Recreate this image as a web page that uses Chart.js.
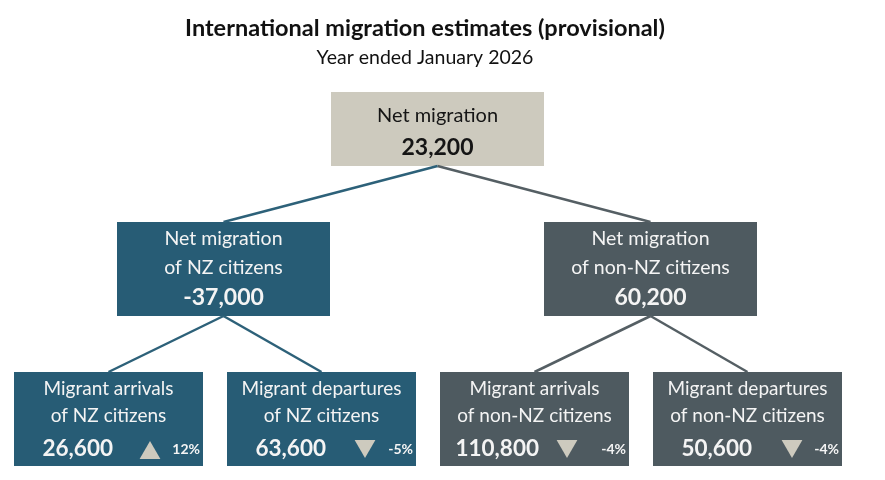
<!DOCTYPE html>
<html>
<head>
<meta charset="utf-8">
<script src="https://cdn.jsdelivr.net/npm/chart.js@4"></script>
<style>
  body { margin: 0; background: #fff; }
  #wrap { width: 885px; height: 480px; }
</style>
</head>
<body>
<div id="wrap"><canvas id="myChart" width="885" height="480"></canvas></div>
<script>
var title = 'International migration estimates (provisional)';
var subtitle = 'Year ended January 2026';

var boxLines = [
	['Net migration'],
	['Net migration', 'of NZ citizens'],
	['Net migration', 'of non-NZ citizens'],
	['Migrant arrivals', 'of NZ citizens'],
	['Migrant departures', 'of NZ citizens'],
	['Migrant arrivals', 'of non-NZ citizens'],
	['Migrant departures', 'of non-NZ citizens']
];
var boxValues = [23200, -37000, 60200, 26600, 63600, 110800, 50600];
var changes = [null, null, null, 12, -5, -4, -4];
var parents = [null, 0, 0, 1, 1, 2, 2];

// layout of the tree (pixels in a 885x480 frame)
var boxes = [
	{x: 331, y: 92, w: 213, h: 74},
	{x: 117, y: 222, w: 213, h: 94},
	{x: 544, y: 222, w: 213, h: 94},
	{x: 14, y: 372, w: 189, h: 94, tri: 136},
	{x: 227, y: 372, w: 189, h: 94, tri: 138},
	{x: 440, y: 372, w: 189, h: 94, tri: 127},
	{x: 653, y: 372, w: 189, h: 94, tri: 139}
];
var branch = [0, 1, 2, 1, 1, 2, 2];
var fills = ['#cdcabe', '#275c75', '#4e5a60'];
var lineColors = ['#4e5a60', '#2d6179', '#555f64'];
var FONT = 'Lato, "Open Sans", sans-serif';

function fmt(v) {
	return v.toLocaleString('en-US');
}

var datasets = [];
for (var i = 1; i < boxes.length; i++) {
	var p = boxes[parents[i]], c = boxes[i];
	datasets.push({
		data: [{x: p.x + p.w / 2, y: p.y + p.h}, {x: c.x + c.w / 2, y: c.y}],
		showLine: true,
		borderColor: lineColors[branch[i]],
		borderWidth: 2.5,
		pointRadius: 0
	});
}

var triPts = [], triRot = [];
for (var j = 3; j < boxes.length; j++) {
	var b = boxes[j];
	triPts.push({x: b.x + b.tri, y: b.y + (changes[j] > 0 ? 81 : 74)});
	triRot.push(changes[j] > 0 ? 0 : 180);
}
datasets.push({
	data: triPts,
	pointStyle: 'triangle',
	pointRadius: 12,
	pointRotation: triRot,
	pointBackgroundColor: '#cdcabe',
	pointBorderWidth: 0,
	pointBorderColor: '#cdcabe'
});

var boxPlugin = {
	id: 'boxes',
	beforeDatasetsDraw: function(chart) {
		var ctx = chart.ctx, xs = chart.scales.x, ys = chart.scales.y;
		boxes.forEach(function(b, i) {
			var x0 = xs.getPixelForValue(b.x), x1 = xs.getPixelForValue(b.x + b.w);
			var y0 = ys.getPixelForValue(b.y), y1 = ys.getPixelForValue(b.y + b.h);
			ctx.fillStyle = fills[branch[i]];
			ctx.fillRect(x0, y0, x1 - x0, y1 - y0);
		});
	},
	afterDatasetsDraw: function(chart) {
		var ctx = chart.ctx, xs = chart.scales.x, ys = chart.scales.y;
		ctx.save();
		ctx.textBaseline = 'middle';
		ctx.textAlign = 'center';
		ctx.fillStyle = '#111';
		ctx.font = 'bold 23.5px ' + FONT;
		ctx.fillText(title, xs.getPixelForValue(425), ys.getPixelForValue(28));
		ctx.font = '19.5px ' + FONT;
		ctx.fillText(subtitle, xs.getPixelForValue(425), ys.getPixelForValue(58));

		boxes.forEach(function(b, i) {
			var cx = xs.getPixelForValue(b.x + b.w / 2);
			ctx.fillStyle = i === 0 ? '#151515' : '#f4f4f4';
			ctx.textAlign = 'center';
			if (i === 0) {
				ctx.font = '20px ' + FONT;
				ctx.fillText(boxLines[i][0], cx, ys.getPixelForValue(b.y + 24));
				ctx.font = 'bold 23px ' + FONT;
				ctx.fillText(fmt(boxValues[i]), cx, ys.getPixelForValue(b.y + 56));
			} else if (i < 3) {
				ctx.font = '19.5px ' + FONT;
				ctx.fillText(boxLines[i][0], cx, ys.getPixelForValue(b.y + 17));
				ctx.fillText(boxLines[i][1], cx, ys.getPixelForValue(b.y + 46));
				ctx.font = 'bold 23px ' + FONT;
				ctx.fillText(fmt(boxValues[i]), cx, ys.getPixelForValue(b.y + 76));
			} else {
				ctx.font = '19px ' + FONT;
				ctx.fillText(boxLines[i][0], cx, ys.getPixelForValue(b.y + 17));
				ctx.fillText(boxLines[i][1], cx, ys.getPixelForValue(b.y + 44));
				ctx.textAlign = 'right';
				ctx.font = 'bold 22.5px ' + FONT;
				ctx.fillText(fmt(boxValues[i]), xs.getPixelForValue(b.x + 99), ys.getPixelForValue(b.y + 77));
				ctx.font = 'bold 14px ' + FONT;
				ctx.fillText(changes[i] + '%', xs.getPixelForValue(b.x + 186), ys.getPixelForValue(b.y + 77));
			}
		});
		ctx.restore();
	}
};

var chart = new Chart(document.getElementById('myChart').getContext('2d'), {
	type: 'scatter',
	data: {datasets: datasets},
	options: {
		responsive: false,
		animation: false,
		layout: {padding: 0, autoPadding: false},
		scales: {
			x: {type: 'linear', min: 0, max: 885, display: false},
			y: {type: 'linear', min: 0, max: 480, reverse: true, display: false}
		},
		plugins: {
			legend: {display: false},
			tooltip: {enabled: false}
		}
	},
	plugins: [boxPlugin]
});
</script>
</body>
</html>
